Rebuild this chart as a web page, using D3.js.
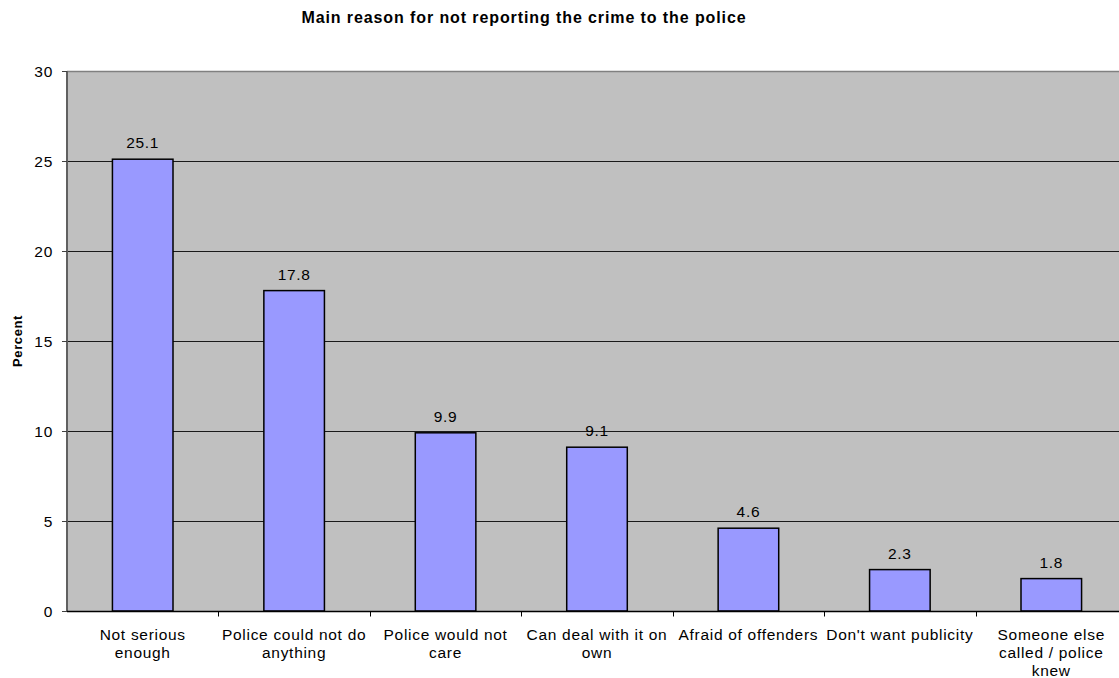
<!DOCTYPE html>
<html>
<head>
<meta charset="utf-8">
<script src="https://cdn.jsdelivr.net/npm/d3@7/dist/d3.min.js"></script>
<style>
  body { margin: 0; background: #fff; }
  svg { display: block; font-family: Arial, "Liberation Sans", sans-serif; }
  .lbl { font-size: 15.5px; letter-spacing: 0.7px; fill: #000; }
</style>
</head>
<body>
<div class="chart"></div>
<script>
// 数据
const categories = ['Not serious enough', 'Police could not do anything', 'Police would not care',
  'Can deal with it on own', 'Afraid of offenders', "Don't want publicity", 'Someone else called / police knew']
// 分类标签的换行（与原图一致）
const tickLines = [
  ['Not serious', 'enough'],
  ['Police could not do', 'anything'],
  ['Police would not', 'care'],
  ['Can deal with it on', 'own'],
  ['Afraid of offenders'],
  ["Don't want publicity"],
  ['Someone else', 'called / police', 'knew']
]
const values = [25.1, 17.8, 9.9, 9.1, 4.6, 2.3, 1.8]
const yTicks = [0, 5, 10, 15, 20, 25, 30]

const width = 1119
const height = 678
const margin = { top: 71, right: -8, bottom: 67, left: 67 }

const svg = d3.select('.chart').append('svg')
  .attr('width', width)
  .attr('height', height)

const x = d3.scaleBand()
  .domain(categories)
  .range([margin.left, width - margin.right])
  .padding(0)

const y = d3.scaleLinear()
  .domain([0, 30])
  .range([height - margin.bottom, margin.top])

// 绘图区背景
svg.append('rect')
  .attr('x', margin.left)
  .attr('y', margin.top)
  .attr('width', width - margin.left)
  .attr('height', y(0) - margin.top)
  .attr('fill', '#c0c0c0')

// 网格线
svg.append('g')
  .selectAll('line')
  .data(yTicks.filter(d => d > 0 && d < 30))
  .join('line')
  .attr('x1', margin.left)
  .attr('x2', width)
  .attr('y1', d => Math.round(y(d)) + 0.5)
  .attr('y2', d => Math.round(y(d)) + 0.5)
  .attr('stroke', '#1a1a1a')
  .attr('stroke-width', 1.2)

// 顶部边框
svg.append('line')
  .attr('x1', margin.left).attr('x2', width)
  .attr('y1', margin.top + 0.5).attr('y2', margin.top + 0.5)
  .attr('stroke', '#808080')
  .attr('stroke-width', 1.5)

// 柱子
const barW = x.bandwidth() * 0.4
svg.append('g')
  .selectAll('rect')
  .data(values)
  .join('rect')
  .attr('x', (d, i) => x(categories[i]) + x.bandwidth() / 2 - barW / 2)
  .attr('y', d => y(d))
  .attr('width', barW)
  .attr('height', d => y(0) - y(d))
  .attr('fill', '#9999ff')
  .attr('stroke', '#000')
  .attr('stroke-width', 1.5)

// 数值标签
svg.append('g')
  .selectAll('text')
  .data(values)
  .join('text')
  .attr('class', 'lbl')
  .attr('x', (d, i) => x(categories[i]) + x.bandwidth() / 2)
  .attr('y', d => y(d) - 11)
  .attr('text-anchor', 'middle')
  .text(d => d.toFixed(1))

// y轴
const yAxis = svg.append('g')
  .attr('transform', `translate(${margin.left},0)`)
  .call(d3.axisLeft(y).tickValues(yTicks).tickSize(5).tickPadding(9))
yAxis.select('.domain').attr('stroke', '#606060').attr('stroke-width', 2)
  .attr('d', `M0,${margin.top}V${y(0)}`)
yAxis.selectAll('.tick line').attr('stroke', '#404040')
yAxis.selectAll('.tick text')
  .attr('class', 'lbl')
  .attr('font-size', null)
  .attr('font-family', null)
  .attr('fill', '#000')
  .attr('dy', '0.38em')

// x轴
const xAxis = svg.append('g')
  .attr('transform', `translate(0,${Math.round(y(0)) + 0.5})`)
xAxis.append('line')
  .attr('x1', margin.left).attr('x2', width)
  .attr('stroke', '#000')
  .attr('stroke-width', 1.5)
xAxis.selectAll('.xtick')
  .data(categories.slice(1))
  .join('line')
  .attr('class', 'xtick')
  .attr('x1', d => Math.round(x(d)) + 0.5)
  .attr('x2', d => Math.round(x(d)) + 0.5)
  .attr('y1', 0).attr('y2', 5)
  .attr('stroke', '#000')

// x轴标签
svg.append('g')
  .selectAll('text')
  .data(categories)
  .join('text')
  .attr('class', 'lbl')
  .attr('x', d => x(d) + x.bandwidth() / 2)
  .attr('y', y(0) + 29)
  .attr('text-anchor', 'middle')
  .each(function (d, i) {
    const t = d3.select(this)
    tickLines[i].forEach((s, k) => {
      t.append('tspan')
        .attr('x', x(d) + x.bandwidth() / 2)
        .attr('dy', k === 0 ? 0 : 18)
        .text(s)
    })
  })

// y轴标题
svg.append('text')
  .attr('transform', `translate(22,${(margin.top + y(0)) / 2}) rotate(-90)`)
  .attr('text-anchor', 'middle')
  .style('font-size', '13px')
  .style('letter-spacing', '0.6px')
  .attr('font-weight', 'bold')
  .text('Percent')

// 标题
svg.append('text')
  .attr('x', 524)
  .attr('y', 23)
  .attr('text-anchor', 'middle')
  .style('font-size', '16px')
  .style('letter-spacing', '0.9px')
  .attr('font-weight', 'bold')
  .text('Main reason for not reporting the crime to the police')
</script>
</body>
</html>
